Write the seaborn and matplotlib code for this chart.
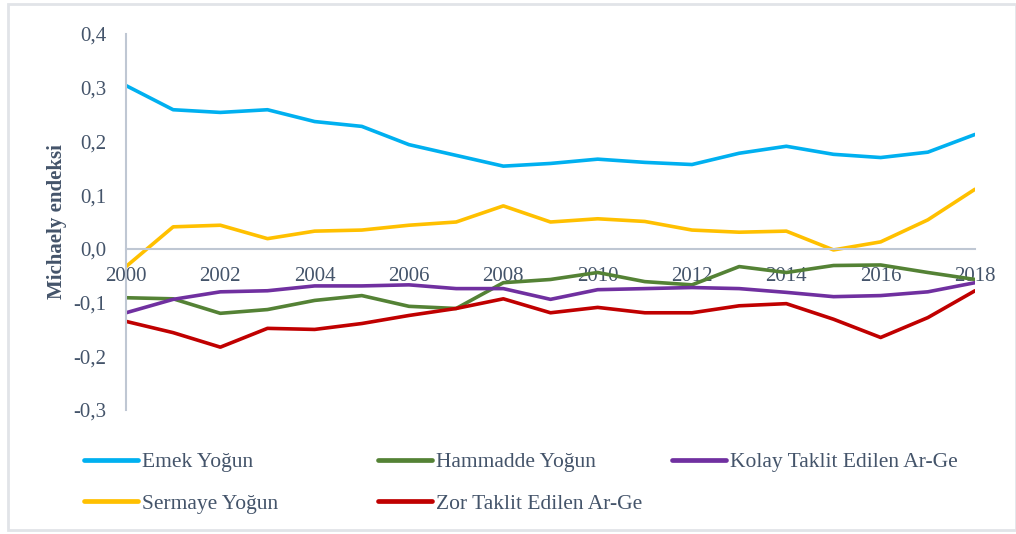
import pandas as pd
import matplotlib
matplotlib.use('Agg')
import matplotlib.pyplot as plt
from matplotlib.patches import Rectangle
from matplotlib.ticker import FuncFormatter
import seaborn as sns

sns.set_theme(style='white')
plt.rcParams['font.family'] = ['Liberation Serif', 'DejaVu Serif']

# data
years = list(range(2000, 2019))

emek = [0.304, 0.259, 0.254, 0.259, 0.237, 0.228, 0.194, 0.174, 0.154, 0.159,
        0.167, 0.161, 0.157, 0.178, 0.191, 0.176, 0.170, 0.180, 0.213]
sermaye = [-0.033, 0.041, 0.044, 0.019, 0.033, 0.035, 0.044, 0.050, 0.080, 0.050,
           0.056, 0.051, 0.035, 0.031, 0.033, -0.002, 0.013, 0.054, 0.111]
hammadde = [-0.091, -0.093, -0.120, -0.113, -0.096, -0.087, -0.107, -0.111, -0.063, -0.057,
            -0.044, -0.061, -0.067, -0.033, -0.044, -0.031, -0.030, -0.044, -0.057]
zor = [-0.135, -0.156, -0.183, -0.148, -0.150, -0.139, -0.124, -0.111, -0.093, -0.119,
       -0.109, -0.119, -0.119, -0.106, -0.102, -0.131, -0.165, -0.128, -0.078]
kolay = [-0.119, -0.094, -0.080, -0.078, -0.069, -0.069, -0.067, -0.074, -0.074, -0.094,
         -0.076, -0.074, -0.072, -0.074, -0.081, -0.089, -0.087, -0.080, -0.063]

series_names = ['Emek Yoğun', 'Sermaye Yoğun', 'Hammadde Yoğun',
                'Zor Taklit Edilen Ar-Ge', 'Kolay Taklit Edilen Ar-Ge']
colors = ['#00B0F0', '#FFC000', '#548235', '#C00000', '#7030A0']

text_color = '#44546A'
axis_color = '#BFC7D3'

df = pd.DataFrame({'Yıl': years,
                   series_names[0]: emek,
                   series_names[1]: sermaye,
                   series_names[2]: hammadde,
                   series_names[3]: zor,
                   series_names[4]: kolay})
long_df = df.melt(id_vars='Yıl', var_name='Seri', value_name='Değer')

fig = plt.figure(figsize=(10.16, 5.34), dpi=100)
ax = fig.add_axes([126 / 1016, 1 - 410 / 534, (975 - 126) / 1016, (410 - 34) / 534])

sns.lineplot(data=long_df, x='Yıl', y='Değer', hue='Seri', hue_order=series_names,
             palette=colors, linewidth=2.6, ax=ax, legend=True)
handles, labels = ax.get_legend_handles_labels()
ax.get_legend().remove()
for h in handles:
    h.set_linewidth(3.4)

ax.set_xlim(2000, 2018)
ax.set_ylim(-0.3, 0.4)
ax.set_xticks(range(2000, 2019, 2))
ax.set_yticks([-0.3, -0.2, -0.1, 0.0, 0.1, 0.2, 0.3, 0.4])
ax.yaxis.set_major_formatter(FuncFormatter(lambda v, p: f'{v:.1f}'.replace('.', ',')))
ax.set_xlabel('')
ax.set_ylabel('')

ax.spines['top'].set_visible(False)
ax.spines['right'].set_visible(False)
ax.spines['bottom'].set_position(('data', 0))
for s in ['left', 'bottom']:
    ax.spines[s].set_color(axis_color)
    ax.spines[s].set_linewidth(1.5)
ax.tick_params(axis='both', length=0, labelsize=15, colors=text_color)
ax.tick_params(axis='x', pad=13)
ax.tick_params(axis='y', pad=14)
ax.grid(False)

fig.text(57 / 1016, 1 - 222 / 534, 'Michaely endeksi', rotation=90, ha='center',
         va='center', fontsize=15, fontweight='bold', color=text_color)

# legend: three columns placed like the reference
col_x = [84, 378, 672]
col_items = [[0, 1], [2, 3], [4]]
for cx, items in zip(col_x, col_items):
    leg = fig.legend([handles[i] for i in items], [labels[i] for i in items],
                     loc='upper left', bbox_to_anchor=(cx / 1016, 1 - 452 / 534),
                     frameon=False, fontsize=15.5, handlelength=2.5, handletextpad=0.2,
                     labelspacing=1.0, borderpad=0, borderaxespad=0)
    for t in leg.get_texts():
        t.set_color(text_color)

fig.patches.append(Rectangle((8 / 1016, 4 / 534), 1 - 8 / 1016, 1 - 8 / 534,
                             transform=fig.transFigure, fill=False,
                             edgecolor='#E1E4E8', linewidth=2))

fig.savefig('out.png', dpi=100)
